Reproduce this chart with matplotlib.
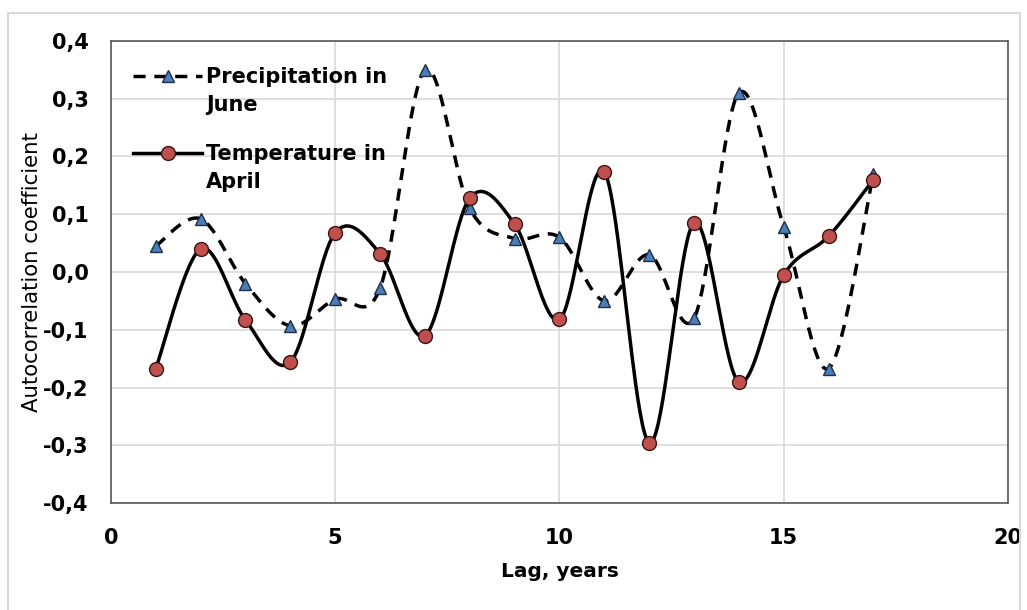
import numpy as np
import matplotlib
matplotlib.use('Agg')
import matplotlib.pyplot as plt
from matplotlib.patches import Rectangle
from matplotlib.legend_handler import HandlerLine2D

# Данные
lag = [1, 2, 3, 4, 5, 6, 7, 8, 9, 10, 11, 12, 13, 14, 15, 16, 17]
precip_june = [0.045, 0.092, -0.020, -0.093, -0.047, -0.028, 0.350, 0.110, 0.058,
               0.060, -0.050, 0.030, -0.080, 0.310, 0.078, -0.167, 0.170]
temp_april = [-0.167, 0.040, -0.083, -0.156, 0.068, 0.032, -0.110, 0.128, 0.083,
              -0.082, 0.173, -0.295, 0.085, -0.190, -0.005, 0.062, 0.160]
y_ticks = [-0.4, -0.3, -0.2, -0.1, 0.0, 0.1, 0.2, 0.3, 0.4]
x_ticks = [0, 5, 10, 15, 20]


def smooth(x, y, n=40):
    # сглаживание как в Excel (кривая Безье через точки, Catmull-Rom)
    x = np.asarray(x, float)
    y = np.asarray(y, float)
    px = np.concatenate([[x[0]], x, [x[-1]]])
    py = np.concatenate([[y[0]], y, [y[-1]]])
    t = np.linspace(0, 1, n)
    xs, ys = [], []
    for i in range(1, len(px) - 2):
        p0 = np.array([px[i], py[i]])
        p3 = np.array([px[i + 1], py[i + 1]])
        c1 = p0 + (np.array([px[i + 1], py[i + 1]]) - np.array([px[i - 1], py[i - 1]])) / 6
        c2 = p3 - (np.array([px[i + 2], py[i + 2]]) - np.array([px[i], py[i]])) / 6
        b = ((1 - t) ** 3)[:, None] * p0 + (3 * (1 - t) ** 2 * t)[:, None] * c1 \
            + (3 * (1 - t) * t ** 2)[:, None] * c2 + (t ** 3)[:, None] * p3
        xs.extend(b[:, 0])
        ys.extend(b[:, 1])
    return xs, ys


class RaisedLine(HandlerLine2D):
    # значок легенды на уровне первой строки подписи
    def create_artists(self, legend, orig_handle, xdescent, ydescent,
                       width, height, fontsize, trans):
        return super().create_artists(legend, orig_handle, xdescent, ydescent - 22,
                                      width, height, fontsize, trans)


fig = plt.figure(figsize=(10.27, 6.10), dpi=100)
ax = fig.add_axes([0.108, 0.175, 0.8735, 0.758])

fig.patches.append(Rectangle((0.008, -0.02), 0.985, 0.999, transform=fig.transFigure,
                             fill=False, edgecolor='#d9d9d9', linewidth=1.5))

sx, sy = smooth(lag, precip_june)
ax.plot(sx, sy, color='black', linestyle=(0, (3.5, 2.5)), linewidth=2.5, zorder=3)
ax.plot(lag, precip_june, linestyle='none', marker='^', markersize=8.5,
        markerfacecolor='#4a7ebb', markeredgecolor='#1f2f45', markeredgewidth=1, zorder=4)

sx, sy = smooth(lag, temp_april)
ax.plot(sx, sy, color='black', linestyle='-', linewidth=2.5, zorder=3)
ax.plot(lag, temp_april, linestyle='none', marker='o', markersize=10,
        markerfacecolor='#c0504d', markeredgecolor='#3a1514', markeredgewidth=1, zorder=4)

# легенда
h1, = ax.plot([], [], color='black', linestyle=(0, (3.5, 2.5)), linewidth=2.5, marker='^',
              markersize=8.5, markerfacecolor='#4a7ebb', markeredgecolor='#1f2f45')
h2, = ax.plot([], [], color='black', linestyle='-', linewidth=2.5, marker='o',
              markersize=10, markerfacecolor='#c0504d', markeredgecolor='#3a1514')
leg = ax.legend([h1, h2], ['Precipitation in\nJune', 'Temperature in\nApril'],
                loc='upper left', bbox_to_anchor=(0.004, 0.985), frameon=False,
                handlelength=3.3, handletextpad=0.2, labelspacing=1.4,
                handler_map={h1: RaisedLine(), h2: RaisedLine()},
                prop={'size': 15, 'weight': 'bold'})
for txt in leg.get_texts():
    txt.set_linespacing(1.5)

ax.set_xlim(0, 20)
ax.set_ylim(-0.4, 0.4)
ax.set_xticks(x_ticks)
ax.set_yticks(y_ticks)
ax.set_yticklabels([f'{v:.1f}'.replace('.', ',') for v in y_ticks])
ax.tick_params(length=0, labelsize=15)
ax.tick_params(axis='y', pad=16)
ax.tick_params(axis='x', pad=18)
for lbl in ax.get_xticklabels() + ax.get_yticklabels():
    lbl.set_fontweight('bold')
ax.grid(True, color='#d9d9d9', linewidth=1.2)
ax.set_axisbelow(True)
for s in ax.spines.values():
    s.set_color('#595959')
    s.set_linewidth(1.2)

ax.set_xlabel('Lag, years', fontsize=14.5, fontweight='bold', labelpad=10)
ax.set_ylabel('Autocorrelation coefficient', fontsize=15.3, labelpad=1)

plt.savefig('out.png', dpi=100)
